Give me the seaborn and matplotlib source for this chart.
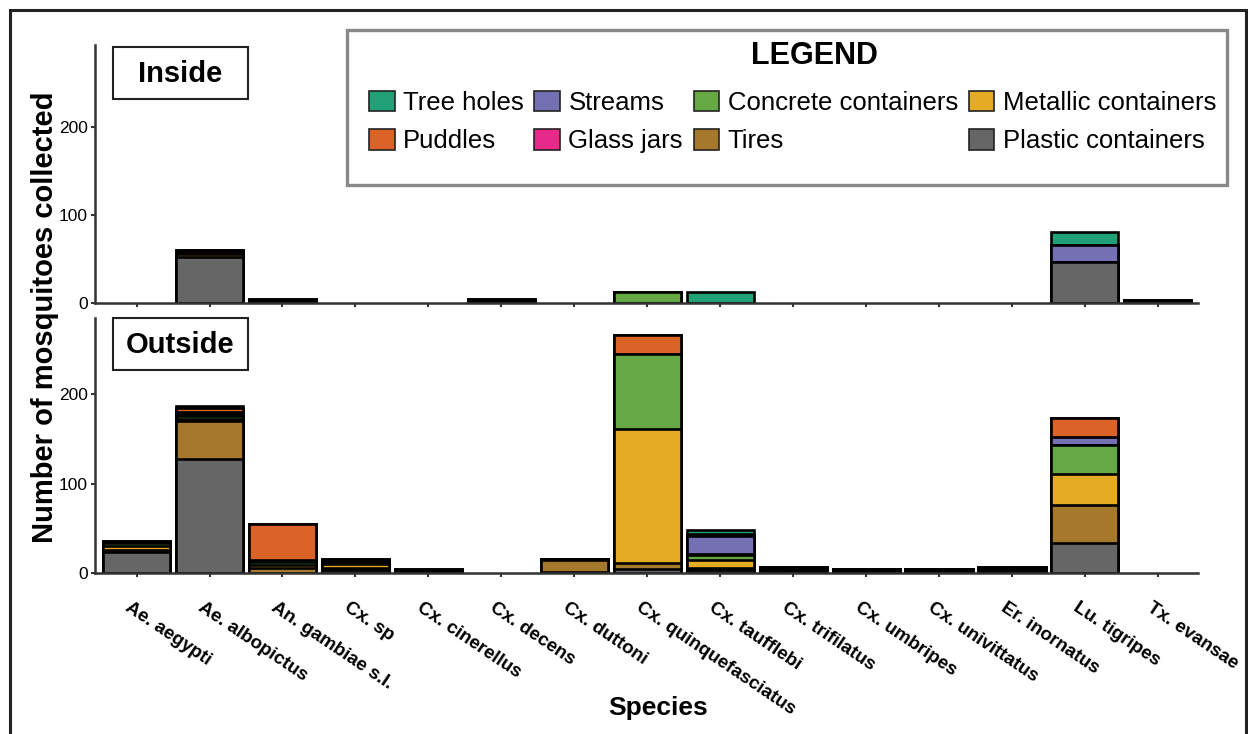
import numpy as np
import pandas as pd
import matplotlib.pyplot as plt
import matplotlib.transforms as mtrans
from matplotlib.patches import Rectangle
import seaborn as sns

sns.set_theme(style='white')
plt.rcParams['font.family'] = ['Liberation Sans', 'DejaVu Sans']
plt.rcParams.update({'text.color': 'black', 'axes.labelcolor': 'black',
                     'xtick.color': 'black', 'ytick.color': 'black'})

# --- data ---
species = ['Ae. aegypti', 'Ae. albopictus', 'An. gambiae s.l.', 'Cx. sp', 'Cx. cinerellus',
           'Cx. decens', 'Cx. duttoni', 'Cx. quinquefasciatus', 'Cx. taufflebi',
           'Cx. trifilatus', 'Cx. umbripes', 'Cx. univittatus', 'Er. inornatus',
           'Lu. tigripes', 'Tx. evansae']

# stacking order, bottom -> top
habitats = ['Plastic containers', 'Tires', 'Metallic containers', 'Concrete containers',
            'Glass jars', 'Streams', 'Puddles', 'Tree holes']
colors = {'Tree holes': '#22a077', 'Puddles': '#dc6328', 'Streams': '#7570b3',
          'Glass jars': '#e7298a', 'Concrete containers': '#66a843',
          'Metallic containers': '#e6ab25', 'Tires': '#a6782c',
          'Plastic containers': '#666666'}
legend_order = ['Tree holes', 'Puddles', 'Streams', 'Glass jars',
                'Concrete containers', 'Tires', 'Metallic containers', 'Plastic containers']

# Inside
in_plastic  = [0, 52, 0, 0, 0, 0, 0, 0, 0, 0, 0, 0, 0, 47, 0]
in_tires    = [0, 4, 1, 0, 0, 2, 0, 0, 0, 0, 0, 0, 0, 0, 1]
in_metallic = [0, 2, 1, 0, 0, 1, 0, 0, 0, 0, 0, 0, 0, 0, 1]
in_concrete = [0, 0, 0, 0, 0, 0, 0, 13, 0, 0, 0, 0, 0, 0, 0]
in_glass    = [0, 0, 0, 0, 0, 0, 0, 0, 0, 0, 0, 0, 0, 0, 0]
in_streams  = [0, 0, 0, 0, 0, 0, 0, 0, 0, 0, 0, 0, 0, 19, 0]
in_puddles  = [0, 2, 2, 0, 0, 2, 0, 0, 0, 0, 0, 0, 0, 0, 1]
in_tree     = [0, 0, 0, 0, 0, 0, 0, 0, 12, 0, 0, 0, 0, 15, 0]

# Outside
out_plastic  = [23, 127, 0, 3, 0, 0, 1, 5, 3, 2, 1, 1, 2, 34, 0]
out_tires    = [3, 43, 6, 3, 2, 0, 14, 6, 3, 2, 1, 1, 2, 42, 0]
out_metallic = [4, 2, 3, 4, 0, 0, 0, 150, 9, 1, 1, 1, 1, 35, 0]
out_concrete = [4, 4, 3, 2, 1, 0, 1, 84, 5, 1, 1, 1, 1, 32, 0]
out_glass    = [0, 2, 0, 0, 0, 0, 0, 0, 1, 0, 0, 0, 0, 0, 0]
out_streams  = [1, 2, 3, 2, 0, 0, 0, 0, 20, 0, 0, 0, 0, 9, 0]
out_puddles  = [1, 4, 40, 2, 2, 0, 0, 21, 3, 1, 0, 0, 1, 21, 0]
out_tree     = [0, 3, 0, 0, 0, 0, 0, 0, 4, 0, 0, 0, 0, 0, 0]

inside = pd.DataFrame({'Plastic containers': in_plastic, 'Tires': in_tires,
                       'Metallic containers': in_metallic, 'Concrete containers': in_concrete,
                       'Glass jars': in_glass, 'Streams': in_streams,
                       'Puddles': in_puddles, 'Tree holes': in_tree}, index=species)
outside = pd.DataFrame({'Plastic containers': out_plastic, 'Tires': out_tires,
                        'Metallic containers': out_metallic, 'Concrete containers': out_concrete,
                        'Glass jars': out_glass, 'Streams': out_streams,
                        'Puddles': out_puddles, 'Tree holes': out_tree}, index=species)

W, H = 1248, 734
fig = plt.figure(figsize=(W / 100, H / 100), dpi=100)


def fig_rect(left, top, right, bottom, **kw):
    r = Rectangle((left / W, 1 - bottom / H), (right - left) / W, (bottom - top) / H,
                  transform=fig.transFigure, fill=False, **kw)
    fig.patches.append(r)
    return r


# outer frame
fig_rect(10, 10, 1246, 760, edgecolor='#222222', linewidth=2.2)


def px_axes(left, top, right, bottom):
    return fig.add_axes([left / W, 1 - bottom / H, (right - left) / W, (bottom - top) / H])


ax_in = px_axes(95, 45, 1198, 303)
ax_out = px_axes(95, 318, 1198, 573)


def stacked(ax, df, ymax):
    cum = df[habitats].cumsum(axis=1)
    # paint from the top-most cumulative layer down, so each layer covers the previous
    for hab in habitats[::-1]:
        vals = cum[hab].where(cum[hab] > 0)
        sns.barplot(x=species, y=vals.values, ax=ax, color=colors[hab], saturation=1,
                    width=0.92, edgecolor='black', linewidth=1.9, order=species)
    ax.set_xlim(-0.57, len(species) - 0.45)
    ax.set_ylim(0, ymax)
    ax.set_yticks([0, 100, 200])
    ax.set_ylabel('')
    sns.despine(ax=ax)
    for s in ['left', 'bottom']:
        ax.spines[s].set_linewidth(1.8)
        ax.spines[s].set_color('#333333')
    ax.tick_params(axis='both', which='both', length=3, width=1.5, color='#333333',
                   left=True, bottom=True, labelsize=12.5, pad=2)


stacked(ax_in, inside, 293)
stacked(ax_out, outside, 285)

ax_in.set_xticklabels([])
ax_in.set_xlabel('')
ax_out.set_xticks(range(len(species)))
ax_out.set_xticklabels(species, rotation=-34, ha='left', va='top', rotation_mode='anchor',
                       fontsize=13.5, fontweight='bold')
ax_out.tick_params(axis='x', pad=16)
offset = mtrans.ScaledTranslation(-5 / 100, 0, fig.dpi_scale_trans)
for lab in ax_out.get_xticklabels():
    lab.set_transform(lab.get_transform() + offset)
ax_out.set_xlabel('')

# panel labels
for top, text in [(47, 'Inside'), (318, 'Outside')]:
    fig_rect(113, top, 248, top + 52, edgecolor='#222222', linewidth=1.5, zorder=5)
    fig.text(180.5 / W, 1 - (top + 27) / H, text, ha='center', va='center',
             fontsize=21, fontweight='bold')

fig.text(45 / W, 1 - 317 / H, 'Number of mosquitoes collected', rotation=90,
         ha='center', va='center', fontsize=21, fontweight='bold')
fig.text(658 / W, 1 - 708 / H, 'Species', ha='center', va='center',
         fontsize=19, fontweight='bold')

# legend
fig_rect(347, 30, 1227, 185, edgecolor='#888888', linewidth=2.4)
fig.text(814 / W, 1 - 56 / H, 'LEGEND', ha='center', va='center',
         fontsize=22, fontweight='bold')
handles = [Rectangle((0, 0), 1, 1, facecolor=colors[h], edgecolor='#222222', linewidth=1.2)
           for h in legend_order]
leg = fig.legend(handles, legend_order, ncol=4, loc='upper left',
                 bbox_to_anchor=(369 / W, 1 - 91 / H), borderaxespad=0, borderpad=0,
                 fontsize=18.5, frameon=False, labelcolor='black',
                 handlelength=1.0, handleheight=0.85, handletextpad=0.32,
                 columnspacing=0.42, labelspacing=0.55)

fig.savefig('out.png', dpi=100)
